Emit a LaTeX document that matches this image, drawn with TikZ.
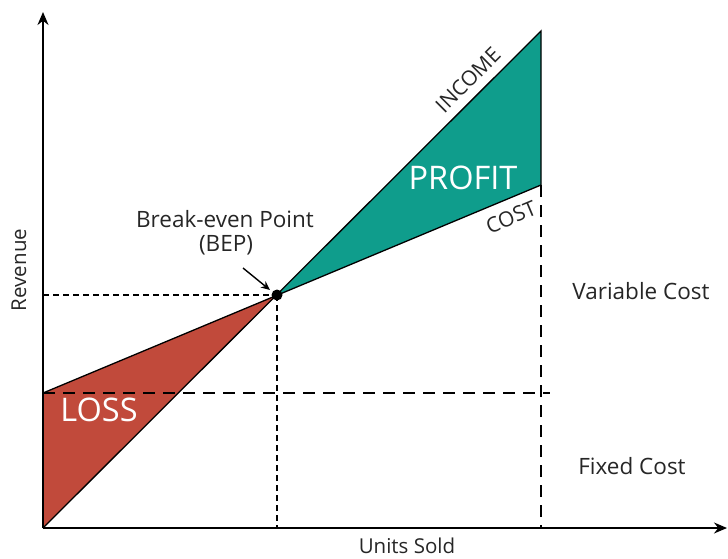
\documentclass[tikz,border=0pt]{standalone}
\usepackage{fontspec}
\setmainfont{Open Sans}
\usetikzlibrary{arrows.meta}
\definecolor{profitc}{HTML}{0F9D8C}
\definecolor{lossc}{HTML}{C14A3B}
\tikzset{
  axis/.style={line width=1.6pt,-{Stealth[length=13pt,width=11pt]}},
  curve/.style={line width=1.3pt},
  longdash/.style={line width=1.2pt,dash pattern=on 12pt off 8pt},
  shortdash/.style={line width=1.1pt,dash pattern=on 6pt off 4pt},
  lbl/.style={font=\fontsize{22.5}{25}\selectfont,text=black!85,inner sep=0pt},
  big/.style={font=\fontsize{32.5}{35}\selectfont,text=white,inner sep=0pt},
  small/.style={font=\fontsize{21}{23}\selectfont,text=black!85,inner sep=0pt},
  axlbl/.style={font=\fontsize{20.5}{22}\selectfont,text=black!85,inner sep=0pt}
}
\begin{document}
\begin{tikzpicture}[x=1pt,y=-1pt]
\useasboundingbox (0,0) rectangle (728,558);
\coordinate (O) at (43,528);
\coordinate (F) at (43,393);
\coordinate (B) at (277,295);
\coordinate (I) at (541,31);
\coordinate (C) at (541,185);
\coordinate (Ytop) at (43,12);
\coordinate (Xend) at (727,528);
\coordinate (FE) at (550,393);
\coordinate (CB) at (541,528);
\coordinate (BX) at (277,528);
\coordinate (BY) at (43,295);
\coordinate (A1) at (243,268);
\coordinate (A2) at (270,290);
% fills
\fill[profitc] (B) -- (I) -- (C) -- cycle;
\fill[lossc] (O) -- (F) -- (B) -- cycle;
% dashed guides
\draw[longdash] (F) -- (FE);
\draw[longdash] (C) -- (CB);
\draw[shortdash] (BY) -- (B);
\draw[shortdash] (B) -- (BX);
% lines
\draw[curve] (O) -- (I) -- (C);
\draw[curve] (F) -- (C);
% axes
\draw[axis] (O) -- (Ytop);
\draw[axis] (O) -- (Xend);
% BEP point
\fill (B) circle (5.5pt);
\draw[line width=1.4pt,-{Stealth[length=9pt,width=8pt]}] (A1) -- (A2);
% labels
\node[big] (profit) at (463,178) {PROFIT};
\node[big] (loss) at (99,410) {LOSS};
\node[small,rotate=45] (income) at (468,80) {INCOME};
\node[small,rotate=22.7] (cost) at (511,217) {COST};
\node[lbl] (bep1) at (225,219) {Break-even Point};
\node[lbl] (bep2) at (226,245) {(BEP)};
\node[lbl] (vc) at (641,291) {Variable Cost};
\node[lbl] (fc) at (632,466) {Fixed Cost};
\node[axlbl] (us) at (407,546) {Units Sold};
\node[axlbl,rotate=90] (rev) at (19,270) {Revenue};
\end{tikzpicture}
\end{document}
